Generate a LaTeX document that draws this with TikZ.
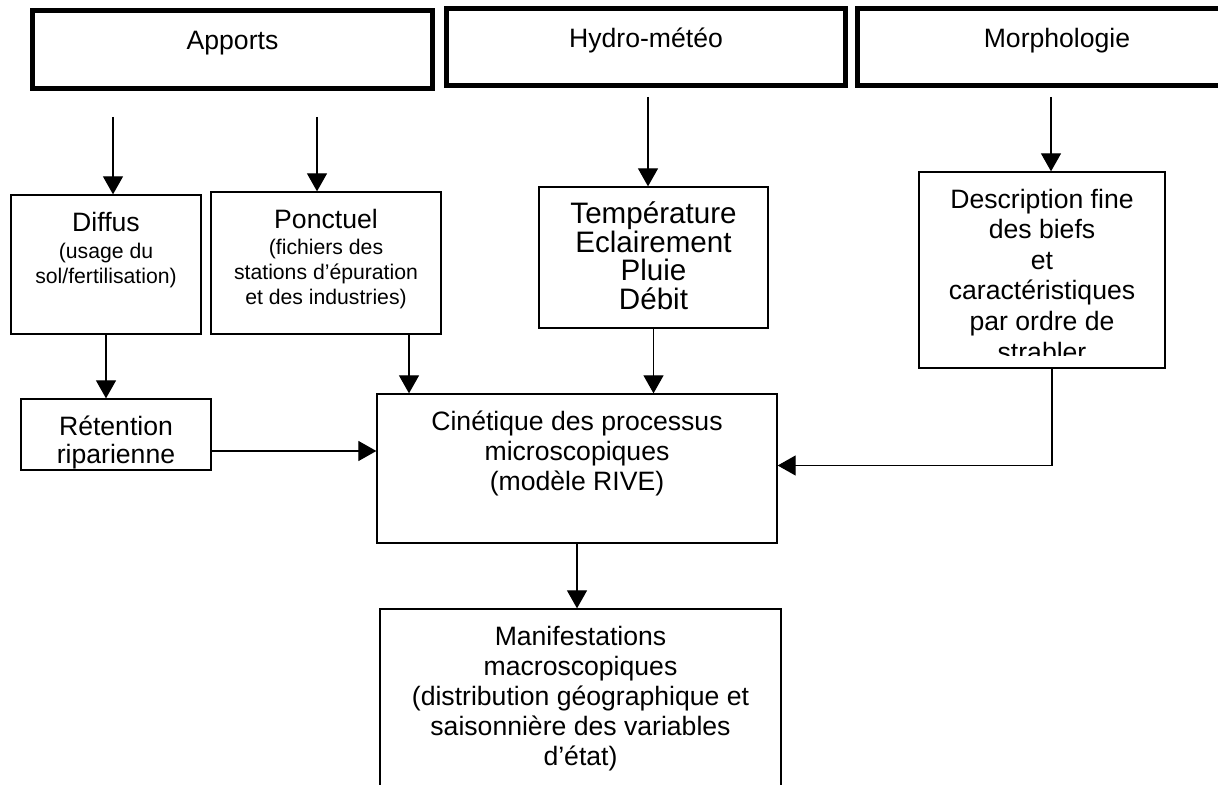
\documentclass[tikz,border=0pt]{standalone}
\usepackage{fontspec}
\setmainfont{Liberation Sans}
\usepackage{tikz}
\usetikzlibrary{arrows.meta,calc,positioning}
\newcommand\mainf{\fontsize{13.3}{15}\selectfont}
\newcommand\smallf{\fontsize{10.6}{12}\selectfont}
\newcommand\bigf{\fontsize{14.8}{14.4}\selectfont}
\newcommand\descrf{\fontsize{13.3}{15.3}\selectfont}
\tikzset{
  box/.style={draw, line width=0.65pt, inner sep=0pt},
  topbox/.style={draw, line width=2.5pt, inner sep=0pt},
  txt/.style={anchor=north, yshift=-#1, align=center, inner sep=0pt, font=\mainf,
    execute at begin node=\strut},
  txt/.default=8.5pt,
  arr/.style={line width=0.6pt, -{Triangle[length=9pt,width=10pt]}},
  every picture/.style={line cap=butt, line join=miter}
}

\begin{document}
\begin{tikzpicture}[x=0.5pt,y=-0.5pt]
  \clip (0,0) rectangle (1218,785);
  \node[topbox, minimum width=200pt, minimum height=39pt] (apports) at (232.5,49.5) {};
  \node[topbox, minimum width=199.5pt, minimum height=38.5pt] (hydro) at (646,47) {};
  \node[topbox, minimum width=199.5pt, minimum height=38.5pt] (morpho) at (1057,47.5) {};
  \node[txt=10pt] (apports-t) at (apports.north) {Apports};
  \node[txt=10pt] (hydro-t) at (hydro.north) {Hydro-météo};
  \node[txt=10pt] (morpho-t) at (morpho.north) {Morphologie};

  \node[box, minimum width=95pt, minimum height=69.5pt] (diffus) at (106,264.5) {};
  \node[box, minimum width=115pt, minimum height=71pt] (ponctuel) at (326,263) {};
  \node[box, minimum width=114.5pt, minimum height=70.5pt] (temp) at (653.5,257.5) {};
  \node[box, minimum width=123pt, minimum height=98pt] (descr) at (1042,270) {};
  \node[box, minimum width=95pt, minimum height=35.5pt] (retention) at (116,434.5) {};
  \node[box, minimum width=200pt, minimum height=74.5pt] (cinetique) at (577,468.5) {};
  \node[box, minimum width=200.5pt, minimum height=102.5pt] (manif) at (580.5,711.5) {};

  \node[txt] (diffus-t) at (diffus.north) {Diffus\\[-1.5pt]\smallf (usage du\\[-2.5pt]\smallf sol/fertilisation)};
  \node[txt] (ponctuel-t) at (ponctuel.north) {Ponctuel\\[-2pt]\smallf (fichiers des\\[-2.5pt]\smallf stations d’épuration\\[-2.5pt]\smallf et des industries)};
  \node[txt=7.4pt, font=\bigf] (temp-t) at (temp.north) {Température\\Eclairement\\Pluie\\Débit};
  \begin{scope}
    \clip (descr.north west) rectangle ([yshift=6.5pt]descr.south east);
    \node[txt, font=\descrf] (descr-t) at (descr.north) {Description fine\\des biefs\\et\\caractéristiques\\par ordre de\\strabler};
  \end{scope}
  \node[txt, font=\fontsize{13.3}{14}\selectfont] (retention-t) at (retention.north) {Rétention\\riparienne};
  \node[txt] (cinetique-t) at (cinetique.north) {Cinétique des processus\\microscopiques\\(modèle RIVE)};
  \node[txt] (manif-t) at (manif.north) {Manifestations\\macroscopiques\\(distribution géographique et\\saisonnière des variables\\d’état)};

  \coordinate (a-src1) at (113,117);
  \coordinate (a-src2) at (317,117);
  \coordinate (h-src) at (648,97);
  \coordinate (m-src) at (1051,97);
  \coordinate (p-out) at ([xshift=41.5pt]ponctuel.south);
  \coordinate (r-out) at ([yshift=-8.25pt]retention.east);
  \coordinate (d-out) at ([xshift=5pt]descr.south);

  \draw[arr] (a-src1) -- (a-src1 |- diffus.north);
  \draw[arr] (a-src2) -- (a-src2 |- ponctuel.north);
  \draw[arr] (h-src) -- (h-src |- temp.north);
  \draw[arr] (m-src) -- (m-src |- descr.north);
  \draw[arr] (diffus.south) -- (diffus.south |- retention.north);
  \draw[arr] (p-out) -- (p-out |- cinetique.north);
  \draw[arr] (temp.south) -- (temp.south |- cinetique.north);
  \draw[arr] (r-out) -- (r-out -| cinetique.west);
  \draw[arr] (d-out) |- ([yshift=1.5pt]cinetique.east);
  \draw[arr] (cinetique.south) -- (cinetique.south |- manif.north);
\end{tikzpicture}
\end{document}
